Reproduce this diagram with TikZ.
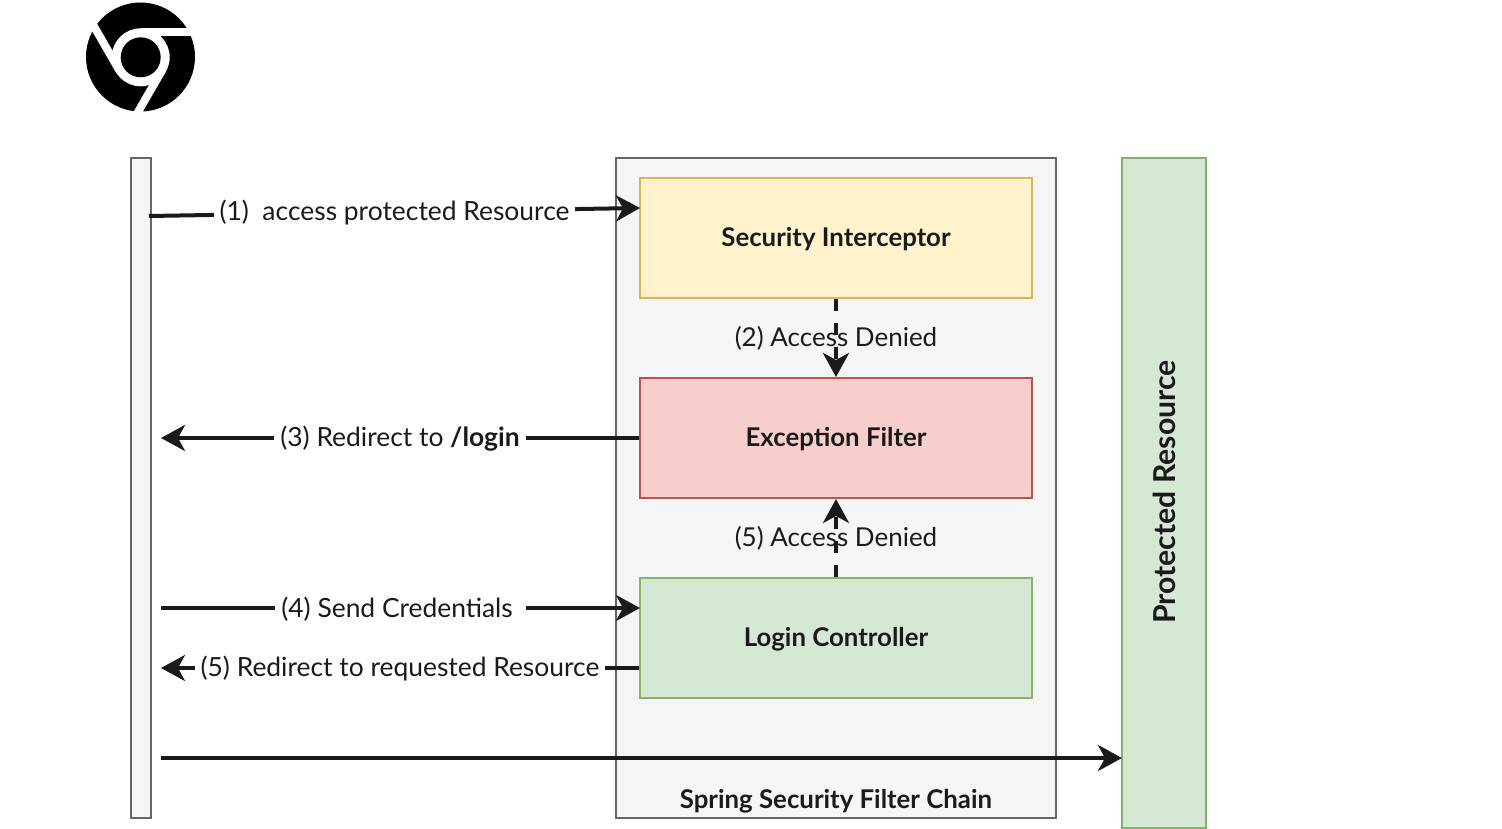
\documentclass[tikz,border=0pt]{standalone}
\usepackage{fontspec}
\setmainfont{Lato}
\usetikzlibrary{arrows.meta}
\definecolor{inkcol}{HTML}{1A1A1A}
\definecolor{chainfill}{HTML}{F5F5F5}
\definecolor{chainline}{HTML}{666666}
\definecolor{yellowfill}{HTML}{FFF2CC}
\definecolor{yellowline}{HTML}{D6B656}
\definecolor{redfill}{HTML}{F8CECC}
\definecolor{redline}{HTML}{B85450}
\definecolor{greenfill}{HTML}{D5E8D4}
\definecolor{greenline}{HTML}{82B366}
\tikzset{
  box/.style={draw, line width=2pt, text=inkcol, font=\fontsize{25.8}{30}\selectfont\bfseries, inner sep=0pt, text height=22.5pt, text depth=5pt},
  flow/.style={draw=inkcol, line width=4pt, -{Stealth[length=24pt,width=26pt,inset=7pt]}},
  denied/.style={flow, dash pattern=on 12pt off 12pt},
  edgelabel/.style={fill=white, text=inkcol, inner xsep=6pt, inner ysep=1pt, yshift=-1pt, font=\fontsize{26.4}{30}\selectfont},
  innerlabel/.style={text=inkcol, inner sep=0pt, font=\fontsize{26}{30}\selectfont},
  chromecut/.style={draw=white, line width=8pt}
}
\begin{document}
\begin{tikzpicture}[x=1pt,y=-1pt]
\useasboundingbox (0,0) rectangle (1502,829);

% Browser icon
\fill [black] (140.5,57) circle (54.5);
\fill [white] (140.7,57.3) circle (29);
\fill [black] (140.7,57.3) circle (20);
\foreach \a in {0,120,240} {
  \begin{scope}[shift={(140.7,57.3)},rotate=\a]
    \draw [chromecut] (0,-25) -- (62,-25);
  \end{scope}
}

% Boxes
\node [box, fill=chainfill, draw=chainline, minimum width=20pt, minimum height=660pt] (Browser) at (141,488) {};
\node [box, fill=chainfill, draw=chainline, minimum width=440pt, minimum height=660pt] (Chain) at (836,488) {};
\node [box, fill=yellowfill, draw=yellowline, minimum width=392pt, minimum height=120pt] (Interceptor) at (836,238) {Security Interceptor};
\node [box, fill=redfill, draw=redline, minimum width=392pt, minimum height=120pt] (Exception) at (836,438) {Exception Filter};
\node [box, fill=greenfill, draw=greenline, minimum width=392pt, minimum height=120pt] (Login) at (836,638) {Login Controller};
\node [box, fill=greenfill, draw=greenline, minimum width=84pt, minimum height=670pt] (Resource) at (1164,493) {};
\node [text=inkcol, font=\fontsize{30.2}{34}\selectfont\bfseries, rotate=90, inner sep=0pt] (ResourceText) at (1164,492) {Protected Resource};
\node [text=inkcol, font=\fontsize{25.8}{30}\selectfont\bfseries, inner sep=0pt] (ChainText) at (836,801) {Spring Security Filter Chain};

% Free ends on the browser side and on the boxes
\coordinate (AccessStart) at (149,216);
\coordinate (AccessEnd) at (640,208);
\coordinate (RedirectEnd) at (161,438);
\coordinate (SendStart) at (161,608);
\coordinate (SendEnd) at (640,608);
\coordinate (BackStart) at (639,668);
\coordinate (BackEnd) at (161,668);
\coordinate (PassStart) at (161,758);
\coordinate (PassEnd) at (1122,758);

% Connectors
\draw [flow] (AccessStart) -- node [edgelabel] (AccessLabel) {(1)\ \ access protected Resource} (AccessEnd);
\draw [flow] (Exception.west) -- node [edgelabel] (RedirectLabel) {(3) Redirect to \textbf{/login}} (RedirectEnd);
\draw [flow] (SendStart) -- node [edgelabel] (SendLabel) {(4) Send Credentials\ \mbox{}} (SendEnd);
\draw [flow] (BackStart) -- node [edgelabel] (BackLabel) {(5) Redirect to requested Resource} (BackEnd);
\draw [flow] (PassStart) -- (PassEnd);
\draw [denied] (Interceptor.south) -- node [innerlabel] (DeniedOne) {(2) Access Denied} (Exception.north);
\draw [denied] (Login.north) -- node [innerlabel] (DeniedTwo) {(5) Access Denied} (Exception.south);
\end{tikzpicture}
\end{document}
